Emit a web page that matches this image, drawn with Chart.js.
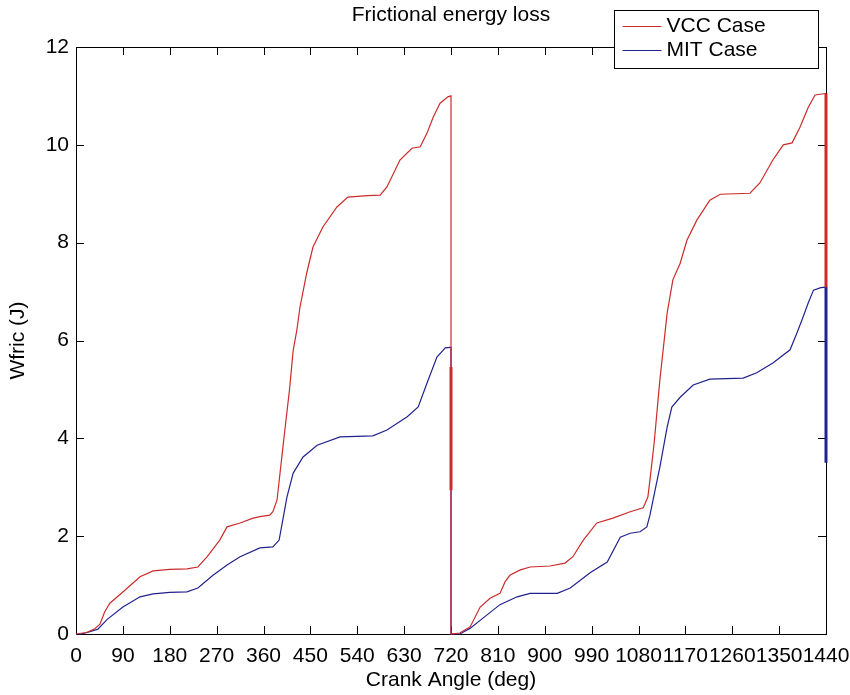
<!DOCTYPE html>
<html>
<head>
<meta charset="utf-8">
<script src="https://cdn.jsdelivr.net/npm/chart.js@4"></script>
<style>
html, body { margin:0; padding:0; background:#fff; }
#wrap { width:850px; height:695px; }
</style>
</head>
<body>
<div id="wrap"><canvas id="fricChart"></canvas></div>
<script>
// Frictional energy loss — VCC vs MIT, two engine cycles
const vccAngle = [0, 20, 35, 46, 55, 65, 90, 123, 148, 180, 213, 234, 252, 276, 290, 315, 340, 353, 372, 378,
                  386, 395, 401, 410, 417, 424, 430, 443, 455, 474, 501, 522, 560, 584, 597, 622, 645, 661, 674, 686,
                  699, 714, 720, 720, 720, 720,
                  737, 757, 776, 795, 814, 824, 833, 853, 872, 910, 939, 954, 974, 1000, 1031, 1064, 1089, 1098, 1102, 1110,
                  1121, 1135, 1146, 1160, 1173, 1192, 1217, 1237, 1294, 1313, 1338, 1358, 1375, 1390, 1406, 1419, 1440, 1440];
const vccWork  = [0, 0.03, 0.1, 0.2, 0.45, 0.63, 0.86, 1.17, 1.29, 1.32, 1.33, 1.37, 1.58, 1.92, 2.19, 2.27, 2.37, 2.4, 2.43, 2.5,
                  2.74, 3.6, 4.17, 5.0, 5.8, 6.21, 6.68, 7.38, 7.91, 8.32, 8.73, 8.93, 8.96, 8.97, 9.14, 9.69, 9.93, 9.96, 10.24, 10.57,
                  10.85, 10.98, 11.0, 5.46, 2.94, 0,
                  0.02, 0.15, 0.55, 0.73, 0.83, 1.07, 1.2, 1.31, 1.37, 1.39, 1.45, 1.58, 1.92, 2.27, 2.37, 2.5, 2.58, 2.8, 3.15, 3.9,
                  5.19, 6.56, 7.24, 7.58, 8.05, 8.46, 8.87, 8.99, 9.01, 9.22, 9.69, 10.0, 10.04, 10.36, 10.77, 11.02, 11.05, 7.09];

const mitAngle = [0, 10, 25, 42, 60, 90, 123, 148, 180, 213, 234, 263, 290, 315, 353, 378, 390, 397, 405, 417,
                  436, 463, 507, 570, 597, 636, 657, 674, 693, 709, 718, 720, 720,
                  737, 757, 782, 814, 847, 872, 924, 949, 987, 1020, 1045, 1064, 1083, 1096, 1102, 1108, 1121, 1135, 1144, 1160,
                  1185, 1217, 1281, 1307, 1338, 1371, 1384, 1396, 1406, 1416, 1430, 1440, 1440];
const mitWork  = [0, 0, 0.04, 0.1, 0.3, 0.55, 0.76, 0.82, 0.85, 0.86, 0.94, 1.2, 1.41, 1.58, 1.76, 1.78, 1.92, 2.33, 2.8, 3.29,
                  3.62, 3.86, 4.03, 4.05, 4.17, 4.44, 4.64, 5.13, 5.66, 5.85, 5.86, 5.86, 0,
                  0, 0.12, 0.33, 0.6, 0.76, 0.83, 0.83, 0.94, 1.25, 1.47, 1.98, 2.06, 2.09, 2.19, 2.43, 2.74, 3.41, 4.23, 4.64, 4.84,
                  5.09, 5.21, 5.23, 5.34, 5.54, 5.81, 6.15, 6.48, 6.77, 7.03, 7.08, 7.09, 3.5];

const xTicks = [0, 90, 180, 270, 360, 450, 540, 630, 720, 810, 900, 990, 1080, 1170, 1260, 1350, 1440];
const yTicks = [0, 2, 4, 6, 8, 10, 12];

const RED  = "#cc2b2b";
const BLUE = "#22228f";
const FONT = { family:"'Liberation Sans', Arial, sans-serif", size:21 };
const TITLE = "Frictional energy loss";

const toPts = (xs, ys) => xs.map((x, i) => ({ x, y: ys[i] }));

// vertical drop segments (end of cycle) look heavier in the original
function isDrop(ctx) { return ctx.p0.parsed.x === ctx.p1.parsed.x; }
function vccWidth(ctx) {
    if (!isDrop(ctx)) return undefined;
    const lo = Math.min(ctx.p0.parsed.y, ctx.p1.parsed.y), hi = Math.max(ctx.p0.parsed.y, ctx.p1.parsed.y);
    if (ctx.p0.parsed.x === 1440 || (lo > 2 && hi < 6)) return 3;
    return undefined;
}
function mitWidth(ctx) {
    if (isDrop(ctx) && ctx.p0.parsed.x === 1440) return 3;
    return undefined;
}

// ── Box + inward ticks (MATLAB style) + title over plot area ─────────────
const matlabAxes = {
    id: "matlabAxes",
    beforeDatasetsDraw(chart) {
        const { ctx, chartArea: a, scales } = chart;
        const tl = 8;
        ctx.save();
        ctx.strokeStyle = "#000";
        ctx.lineWidth = 1;
        ctx.beginPath();
        xTicks.forEach(v => {
            const px = Math.round(scales.x.getPixelForValue(v)) + 0.5;
            ctx.moveTo(px, a.bottom); ctx.lineTo(px, a.bottom - tl);
            ctx.moveTo(px, a.top);    ctx.lineTo(px, a.top + tl);
        });
        yTicks.forEach(v => {
            const py = Math.round(scales.y.getPixelForValue(v)) + 0.5;
            ctx.moveTo(a.left, py);  ctx.lineTo(a.left + tl, py);
            ctx.moveTo(a.right, py); ctx.lineTo(a.right - tl, py);
        });
        ctx.stroke();
        ctx.strokeRect(Math.round(a.left) + 0.5, Math.round(a.top) + 0.5,
                       Math.round(a.right - a.left), Math.round(a.bottom - a.top));

        ctx.fillStyle = "#000";
        ctx.font = `${FONT.size}px ${FONT.family}`;
        ctx.textAlign = "center";
        ctx.textBaseline = "middle";
        ctx.fillText(TITLE, (a.left + a.right) / 2, 15);
        ctx.restore();
    }
};

// ── Legend box overlapping the top-right corner ──────────────────────────
const boxLegend = {
    id: "boxLegend",
    afterDraw(chart) {
        const { ctx, chartArea: a } = chart;
        const w = 204, h = 58;
        const x = Math.round(a.right) - 8 - w + 0.5, y = Math.round(a.top) - 37 + 0.5;
        ctx.save();
        ctx.fillStyle = "#fff";
        ctx.fillRect(x, y, w, h);
        ctx.strokeStyle = "#000";
        ctx.lineWidth = 1;
        ctx.strokeRect(x, y, w, h);
        ctx.font = `${FONT.size}px ${FONT.family}`;
        ctx.textBaseline = "middle";
        chart.data.datasets.forEach((ds, i) => {
            const ly = y + 16 + i * 24;
            ctx.strokeStyle = ds.borderColor;
            ctx.lineWidth = 1.2;
            ctx.beginPath();
            ctx.moveTo(x + 8, ly); ctx.lineTo(x + 47, ly);
            ctx.stroke();
            ctx.fillStyle = "#000";
            ctx.fillText(ds.label, x + 52, ly);
        });
        ctx.restore();
    }
};

new Chart(document.getElementById("fricChart").getContext("2d"), {
    type: "line",
    data: {
        datasets: [
            { label:"VCC Case", data:toPts(vccAngle, vccWork), borderColor:RED, backgroundColor:RED,
              borderWidth:1.2, pointRadius:0, tension:0, clip:4, segment:{ borderWidth:vccWidth } },
            { label:"MIT Case", data:toPts(mitAngle, mitWork), borderColor:BLUE, backgroundColor:BLUE,
              borderWidth:1.2, pointRadius:0, tension:0, clip:4, segment:{ borderWidth:mitWidth } },
        ],
    },
    options: {
        responsive:true, maintainAspectRatio:false, animation:false,
        layout:{ padding:{ left:0, right:24, top:47, bottom:0 } },
        plugins:{
            legend:{ display:false },
            tooltip:{ enabled:false },
            title:{ display:false },
        },
        scales:{
            x:{ type:"linear", min:0, max:1440,
                afterBuildTicks: s => { s.ticks = xTicks.map(v => ({ value:v })); },
                afterFit: s => { s.height = 61; s.paddingLeft = 0; s.paddingRight = 0; },
                grid:{ display:false, drawTicks:false }, border:{ display:false },
                ticks:{ autoSkip:false, maxRotation:0, minRotation:0, padding:10, color:"#000", font:FONT,
                        callback: v => String(v) },
                title:{ display:true, text:"Crank Angle (deg)", color:"#000", font:FONT, padding:{ top:0, bottom:2 } } },
            y:{ type:"linear", min:0, max:12,
                afterBuildTicks: s => { s.ticks = yTicks.map(v => ({ value:v })); },
                afterFit: s => { s.width = 76; s.paddingTop = 0; s.paddingBottom = 0; },
                grid:{ display:false, drawTicks:false }, border:{ display:false },
                ticks:{ padding:7, color:"#000", font:FONT, callback: v => String(v) },
                title:{ display:true, text:"Wfric (J)", color:"#000", font:FONT, padding:{ top:6, bottom:0 } } },
        },
    },
    plugins:[matlabAxes, boxLegend],
});
</script>
</body>
</html>
